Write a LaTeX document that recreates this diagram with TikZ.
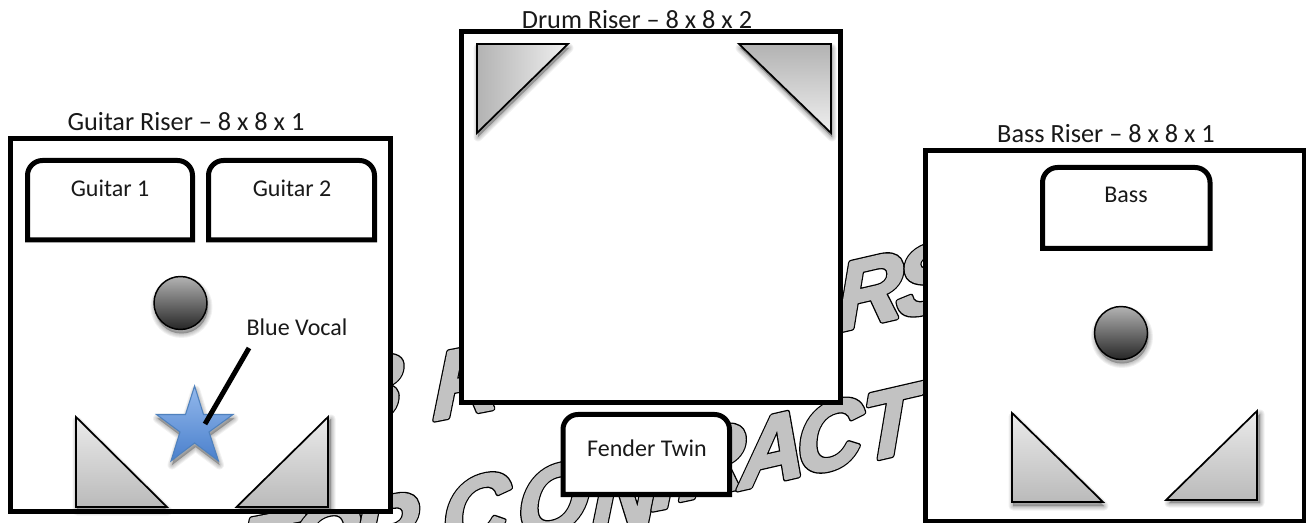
\documentclass[tikz,border=0pt]{standalone}
\usepackage{fontspec}
\setmainfont{Carlito}
\font\wmfont="Liberation Sans/BI" at 70pt
\newcommand{\wmlayer}[1]{%
  \special{pdf:code 1 j 2 Tr 3.9 w 0 0 0 RG 0 0 0 rg}\rlap{#1}%
  \special{pdf:code 1 j 2 Tr 2.0 w 0.76 0.76 0.76 RG 0.76 0.76 0.76 rg}#1%
  \special{pdf:code 0 Tr}}
\usetikzlibrary{shadings}
\definecolor{vocalblue}{HTML}{4F81BD}
\definecolor{stara}{HTML}{93B8EC}
\definecolor{starb}{HTML}{4A80CC}
\newcommand{\softshadow}[2]{%
  \begin{scope}[shift={(#1)}]
    \foreach \w in {9,7,5,3,1}{\path[draw=black,fill=black,line width=\w*0.75pt,line join=round,opacity=.055] #2;}
  \end{scope}}
\tikzset{
  x=0.75pt,y=-0.75pt,
  riser/.style={draw=black,line width=3.75pt,fill=white,miter limit=10},
  amp/.style={draw=black,line width=3.75pt,fill=white},
  title/.style={font=\fontsize{19.7}{22}\selectfont,inner sep=0pt,text=black!90},
  label/.style={font=\fontsize{18}{21}\selectfont,inner sep=0pt,text=black!90},
  wedge/.style={draw=black,line width=1.3pt,line join=miter},
  ball/.style={draw=black,line width=1.1pt,top color=black!30,bottom color=black!85},
  wm/.style={inner sep=0pt,font=\wmfont,transform shape},
}
\newcommand{\wml}[5]{\node[wm,rotate=#3,xslant=.22] (#4) at (#1,#2) {\wmlayer{#5}};}
\newcommand{\ampbox}[4]{\draw[amp] (#1,#4) -- (#1,#2+15) arc[start angle=180,end angle=270,radius=15] -- (#3-15,#2) arc[start angle=270,end angle=360,radius=15] -- (#3,#4) -- cycle;}
\begin{document}
\begin{tikzpicture}
\useasboundingbox (0,0) rectangle (1306,523);
\fill[white] (0,0) rectangle (1306,523);
% watermark
\wml{370}{389}{6}{wa}{B}
\wml{467}{381}{11}{wb}{R}
\wml{870}{291}{13}{wc}{R}
\wml{927}{279}{13}{wd}{S}
\wml{270}{548}{11}{we}{T}
\wml{325}{538}{11}{wf}{O}
\wml{385}{530}{11}{wg}{R}
\wml{476}{510}{11}{wh}{C}
\wml{554}{499}{11}{wi}{O}
\wml{625}{495}{11}{wj}{N}
\wml{665}{475}{11}{wk}{T}
\wml{712}{461}{12}{wl}{R}
\wml{772}{449}{13}{wm}{A}
\wml{830}{436}{13}{wn}{C}
\wml{890}{423}{13}{wo}{T}
\wml{955}{408}{13}{wp}{U}
% risers
\node[title] (gtitle) at (186,122) {Guitar Riser -- 8 x 8 x 1};
\draw[riser] (10.5,139) rectangle (390.5,511);
\node[title] (dtitle) at (637,20) {Drum Riser -- 8 x 8 x 2};
\draw[riser] (461,32) rectangle (840,403);
\node[title] (btitle) at (1106,134) {Bass Riser -- 8 x 8 x 1};
\draw[riser] (925,151) rectangle (1304,521);
% amps
\ampbox{27.5}{160.5}{192.5}{240}
\ampbox{208.5}{160.5}{374.5}{240}
\ampbox{563}{414.5}{729.5}{494.5}
\ampbox{1042.5}{167.5}{1210}{248.5}
\node[label] (g1) at (110,188) {Guitar 1};
\node[label] (g2) at (292,188) {Guitar 2};
\node[label] (ft) at (647,448) {Fender Twin};
\node[label] (bs) at (1126,195) {Bass};
% balls
\softshadow{1,4}{(180.5,303) circle[radius=26.5]}
\draw[ball] (180.5,303) circle[radius=26.5];
\softshadow{1,4}{(1121,333) circle[radius=26.5]}
\draw[ball] (1121,333) circle[radius=26.5];
% guitar wedges
\softshadow{1,4}{(76,417) -- (76,507) -- (167,507) -- cycle}
\draw[wedge,top color=black!8,bottom color=black!27] (76,417) -- (76,507) -- (167,507) -- cycle;
\softshadow{3,2}{(328,417) -- (328,507) -- (236.5,507) -- cycle}
\draw[wedge,top color=black!8,bottom color=black!27] (328,417) -- (328,507) -- (236.5,507) -- cycle;
% drum wedges
\softshadow{1,4}{(477,44) -- (568,44) -- (477,133) -- cycle}
\draw[wedge,left color=black!30,right color=black!6] (477,44) -- (568,44) -- (477,133) -- cycle;
\softshadow{1,4}{(739,44) -- (831,44) -- (831,133) -- cycle}
\draw[wedge,top color=black!30,bottom color=black!6] (739,44) -- (831,44) -- (831,133) -- cycle;
% bass wedges
\softshadow{1,4}{(1012,413) -- (1012,502) -- (1103,502) -- cycle}
\draw[wedge,top color=black!8,bottom color=black!27] (1012,413) -- (1012,502) -- (1103,502) -- cycle;
\softshadow{3,3}{(1257,411) -- (1257,500) -- (1166,500) -- cycle}
\draw[wedge,top color=black!8,bottom color=black!27] (1257,411) -- (1257,500) -- (1166,500) -- cycle;
% star
\def\starpath{(194.6,386) -- (203.5,414.5) -- (233,414.5) -- (209,432) -- (218.5,461) -- (194.6,443) -- (171,461) -- (180,432) -- (156.5,414.5) -- (185.5,414.5) -- cycle}
\softshadow{1,4}{\starpath}
\draw[draw=vocalblue,line width=0.8pt,top color=stara,bottom color=starb] \starpath;
% callout
\node[label] (vocal) at (297,327) {Blue Vocal};
\coordinate (calloutA) at (249,348);
\coordinate (calloutB) at (205,424);
\draw[black,line width=3.75pt] (calloutA) -- (calloutB);
\end{tikzpicture}
\end{document}
